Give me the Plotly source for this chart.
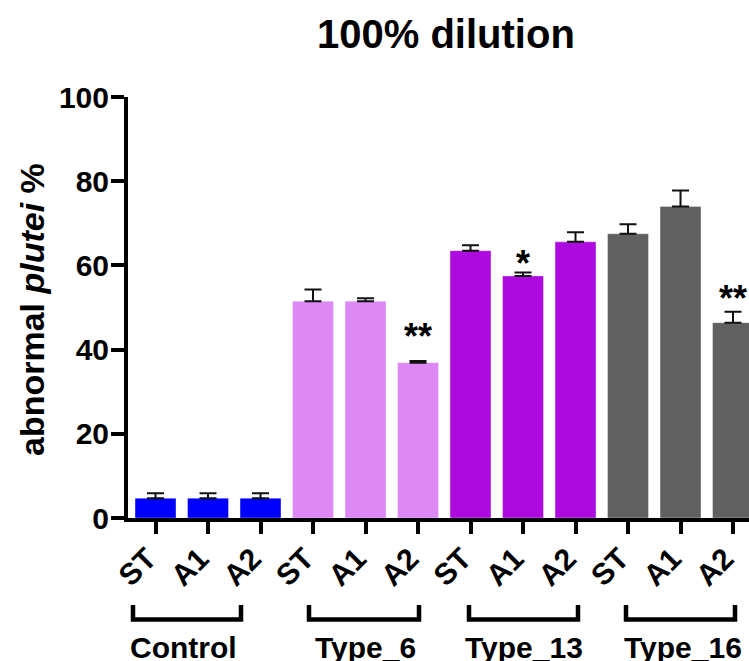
import plotly.graph_objects as go

# ---- data ----
bar_labels = ["ST", "A1", "A2", "ST", "A1", "A2", "ST", "A1", "A2", "ST", "A1", "A2"]
groups = ["Control", "Type_6", "Type_13", "Type_16"]
values = [4.7, 4.7, 4.7, 51.5, 51.5, 36.9, 63.5, 57.5, 65.6, 67.5, 74.0, 46.4]
errors = [1.2, 1.2, 1.2, 2.8, 0.7, 0.4, 1.3, 0.8, 2.3, 2.3, 3.8, 2.6]
sig_marks = ["", "", "", "", "", "**", "", "*", "", "", "", "**"]
sig_y = [None, None, None, None, None, 44.8, None, 62.1, None, None, None, 53.8]
y_ticks = [0, 20, 40, 60, 80, 100]

group_colors = ["#0000FF", "#DD88F5", "#AC0ADF", "#606060"]
bar_colors = [group_colors[i // 3] for i in range(len(values))]

FONT = "Liberation Sans, Arial, Helvetica, sans-serif"

# layout geometry (pixels)
W, H = 749, 661
L, R, T, B = 128, 0, 97, 143
PW, PH = W - L - R, H - T - B

def px_x(px):
    return (px - L) / PW

def px_y(py):
    return (H - B - py) / PH

x_idx = list(range(len(values)))

fig = go.Figure()
fig.add_trace(go.Bar(
    x=x_idx, y=values,
    marker=dict(color=bar_colors, line=dict(color="rgba(255,255,255,0.35)", width=1)),
    error_y=dict(type="data", array=errors, arrayminus=[0] * len(errors),
                 symmetric=False, color="#111111", thickness=2, width=8.5),
    cliponaxis=True,
    showlegend=False,
))

annotations = []
# significance stars
for i, (m, yy) in enumerate(zip(sig_marks, sig_y)):
    if m:
        annotations.append(dict(x=i, y=yy, xref="x", yref="y", text="<b>%s</b>" % m,
                                showarrow=False,
                                font=dict(family=FONT, size=36, color="black"),
                                yanchor="middle", yshift=-7))

# title
annotations.append(dict(x=px_x(446), y=px_y(33), xref="paper", yref="paper",
                        text="<b>100% dilution</b>", showarrow=False,
                        font=dict(family=FONT, size=40, color="black"),
                        xanchor="center", yanchor="middle", yshift=-1))
# y title
annotations.append(dict(x=px_x(32), y=px_y(310), xref="paper", yref="paper",
                        text="<b>abnormal <i>plutei</i> %</b>", showarrow=False, textangle=-90,
                        font=dict(family=FONT, size=34, color="black"),
                        xanchor="center", yanchor="middle"))

# group brackets and labels
bracket_px = [(133, 241), (309, 419), (469, 578), (626, 735)]
label_px = [183.5, 365, 524, 683]
shapes = []
for (x1, x2), lx, g in zip(bracket_px, label_px, groups):
    path = "M {a},{t} L {a},{b} L {c},{b} L {c},{t}".format(
        a=px_x(x1), c=px_x(x2), t=px_y(605), b=px_y(619.5))
    shapes.append(dict(type="path", path=path, xref="paper", yref="paper",
                       line=dict(color="black", width=4.5)))
    annotations.append(dict(x=px_x(lx), y=px_y(647), xref="paper", yref="paper",
                            text="<b>%s</b>" % g, showarrow=False,
                            font=dict(family=FONT, size=30, color="black"),
                            xanchor="center", yanchor="middle"))

fig.update_layout(
    width=W, height=H,
    margin=dict(l=L, r=R, t=T, b=B, autoexpand=False),
    paper_bgcolor="white", plot_bgcolor="white",
    bargap=0.22,
    font=dict(family=FONT, color="black"),
    annotations=annotations, shapes=shapes,
    xaxis=dict(
        range=[-0.524, -0.524 + PW / 52.5],
        tickvals=x_idx, ticktext=["<b>%s</b>" % t for t in bar_labels],
        tickangle=-45, tickfont=dict(family=FONT, size=30, color="black"),
        ticks="outside", ticklen=12, tickwidth=3.5, tickcolor="black",
        ticklabelstandoff=-5, ticklabelshift=-8,
        showline=True, linewidth=4, linecolor="black",
        showgrid=False, zeroline=False, automargin=False,
    ),
    yaxis=dict(
        range=[0, 100], tickvals=y_ticks, ticktext=["<b>%d</b>" % v for v in y_ticks],
        tickfont=dict(family=FONT, size=30, color="black"),
        ticks="outside", ticklen=13, tickwidth=3.5, tickcolor="black",
        ticklabelstandoff=-4,
        showline=True, linewidth=4, linecolor="black",
        showgrid=False, zeroline=False, automargin=False,
    ),
)

fig.write_html("out.html", config={"displayModeBar": False},
               post_script="document.body.style.margin='0';document.body.style.overflow='hidden';")
